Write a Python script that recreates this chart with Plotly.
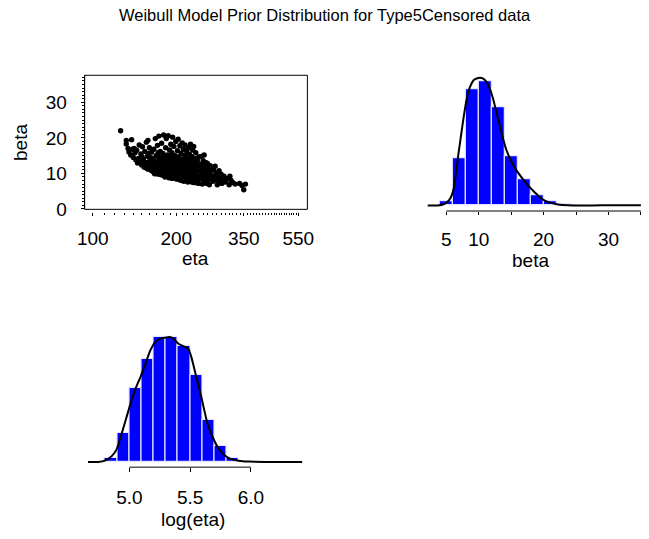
import math
import plotly.graph_objects as go

W, H = 649, 539
FONT = "Liberation Sans, Arial, Helvetica, sans-serif"

# ---------------- data ----------------
# prior samples (eta, beta)
eta_beta_samples = [
    (126, 22.0), (132, 19.3), (132, 18.3), (134, 17.0),
    (135, 16.0), (137, 15.2), (138, 19.5), (139, 16.8), (140, 14.5), (141, 17.0), (142, 15.8),
    (143, 13.8), (144, 16.5), (145, 12.9), (146, 14.2), (147, 18.0),
    (148, 13.5), (149, 15.5), (150, 12.4), (150, 14.8), (151, 17.5), (152, 14.0), (153, 11.8),
    (153, 13.2), (154, 16.2), (155, 13.0), (155, 11.6), (156, 18.8), (157, 12.0), (157, 14.8),
    (158, 11.2), (158, 19.3), (159, 15.6), (160, 13.4), (160, 17.2), (161, 12.6), (161, 13.9),
    (162, 10.9), (162, 14.4), (163, 16.0), (163, 11.8), (164, 12.2),
    (165, 10.5), (165, 14.1), (166, 12.0), (166, 16.8), (167, 11.2), (167, 13.2), (167, 9.9),
    (168, 19.8), (168, 10.0), (169, 15.0), (169, 10.8), (170, 12.6), (170, 11.0), (171, 17.9),
    (171, 13.6), (172, 9.8), (172, 12.2), (172, 15.8), (173, 14.8), (173, 20.5), (174, 11.5),
    (174, 10.4), (175, 13.0), (175, 16.2), (176, 9.6), (176, 12.8), (176, 14.0), (177, 18.5),
    (177, 11.0), (178, 14.2), (178, 10.2), (178, 11.8), (179, 12.0), (179, 15.6), (180, 9.4),
    (180, 13.4), (180, 20.8),
    (181, 11.2), (181, 14.6), (182, 9.0), (182, 12.5), (183, 17.2), (183, 10.4), (184, 13.2),
    (184, 19.8), (185, 9.6), (185, 11.8), (185, 13.8), (186, 15.2), (186, 10.8), (187, 12.8),
    (187, 20.6), (188, 8.8), (188, 14.0), (189, 11.4), (189, 16.6), (190, 10.2), (190, 12.4),
    (190, 14.8), (191, 18.2), (191, 9.4), (192, 13.6), (192, 11.0), (193, 15.8), (193, 8.6),
    (194, 12.0), (194, 20.2), (195, 10.0), (195, 14.4), (195, 12.6), (196, 11.6), (196, 17.6),
    (197, 9.2), (197, 13.0), (198, 10.6), (198, 15.0), (199, 12.2), (199, 19.0), (200, 8.4),
    (200, 11.2),
    (201, 13.8), (201, 10.0), (202, 16.4), (202, 9.0), (203, 12.0), (203, 19.6), (204, 11.0),
    (204, 14.6), (204, 12.2), (205, 8.2), (205, 12.8), (206, 17.8), (206, 10.4), (207, 13.4),
    (207, 9.6), (208, 11.6), (208, 15.6), (209, 8.0), (209, 12.4), (210, 18.6), (210, 10.8),
    (210, 13.2), (211, 14.0), (211, 9.2), (212, 11.8), (212, 16.8), (213, 7.8), (213, 13.0),
    (214, 10.2), (214, 15.0), (215, 12.2), (215, 18.0), (216, 9.0), (216, 11.0), (216, 14.0),
    (217, 13.8), (217, 8.4), (218, 16.2), (218, 10.6), (219, 12.6), (219, 9.8), (220, 14.4),
    (220, 7.6),
    (221, 11.4), (221, 17.2), (222, 9.4), (222, 13.0), (223, 8.0), (223, 15.4), (224, 10.6),
    (224, 12.0), (225, 18.2), (225, 9.0), (226, 13.8), (226, 11.0), (227, 7.6), (227, 14.8),
    (228, 10.0), (228, 12.4), (229, 16.6), (229, 8.6), (230, 11.6), (230, 13.4), (231, 9.6),
    (231, 17.6), (232, 12.0), (232, 7.4), (233, 10.4), (233, 14.2), (234, 8.8), (234, 11.2),
    (235, 15.8), (235, 9.8), (236, 12.8), (237, 8.2), (238, 13.6), (239, 10.8), (240, 7.2),
    (240, 11.8), (241, 14.6), (242, 9.2), (243, 10.6), (244, 12.6),
    (245, 8.4), (246, 11.2), (246, 14.8), (247, 9.6), (248, 7.0), (248, 12.4), (249, 10.2),
    (250, 13.6), (250, 8.8), (251, 11.0), (252, 15.2), (252, 7.6), (253, 9.8), (254, 12.0),
    (255, 8.2), (255, 10.8), (256, 13.0), (257, 7.2), (258, 11.6), (258, 9.2), (259, 12.8),
    (260, 8.0), (261, 10.4), (262, 11.8), (263, 6.8), (264, 9.6), (265, 12.2), (266, 8.6),
    (268, 10.8), (269, 9.0),
    (271, 7.8), (272, 11.2), (274, 9.4), (276, 12.0), (277, 8.2), (279, 10.2), (281, 6.8),
    (283, 9.0), (285, 10.8), (286, 7.6), (288, 8.6), (290, 9.8), (292, 7.2), (295, 8.4),
    (297, 9.2),
    (301, 7.6), (305, 8.6), (310, 6.8), (312, 9.2), (315, 8.0), (320, 7.4), (326, 7.0),
    (338, 7.2), (345, 6.6), (350, 5.4), (355, 7.0),
]
eta = [p[0] for p in eta_beta_samples]
beta = [p[1] for p in eta_beta_samples]

# beta histogram (bin width 2, density scale)
beta_bin_centers = [5, 7, 9, 11, 13, 15, 17, 19, 21, 23]
beta_density = [0.004, 0.049, 0.121, 0.130, 0.102, 0.051, 0.027, 0.011, 0.004, 0.001]
# beta kernel density curve
beta_kde_x = [2.13, 3.64, 4.40, 5.00, 5.65, 6.16, 6.66, 7.16, 7.66, 8.17, 8.67, 9.17, 9.68,
              10.18, 10.68, 11.18, 11.68, 12.19, 12.69, 13.19, 13.70, 14.20, 14.70, 15.20,
              15.71, 16.71, 17.72, 18.73, 19.73, 20.74, 22.25, 23.75, 26.0, 29.0, 31.0,
              33.0, 35.0]
beta_kde_y = [0.0000, 0.0000, 0.0007, 0.0027, 0.0078, 0.0181, 0.0437, 0.0676, 0.0915, 0.1119,
              0.1239, 0.1304, 0.1324, 0.1331, 0.1324, 0.1290, 0.1222, 0.1119, 0.0983, 0.0846,
              0.0710, 0.0591, 0.0505, 0.0437, 0.0376, 0.0283, 0.0198, 0.0130, 0.0068, 0.0034,
              0.0010, 0.0002, 0.0000, 0.0001, 0.0002, 0.0003, 0.0001]

# log(eta) histogram (bin width 0.1, density scale)
logeta_bin_centers = [4.85, 4.95, 5.05, 5.15, 5.25, 5.35, 5.45, 5.55, 5.65, 5.75, 5.85]
logeta_density = [0.06, 0.40, 1.02, 1.42, 1.72, 1.72, 1.60, 1.20, 0.58, 0.22, 0.06]
logeta_kde_x = [4.660, 4.745, 4.799, 4.853, 4.893, 4.933, 4.973, 5.013, 5.054, 5.094, 5.134,
                5.174, 5.214, 5.255, 5.295, 5.330, 5.362, 5.402, 5.442, 5.483, 5.509, 5.536,
                5.563, 5.590, 5.617, 5.643, 5.684, 5.724, 5.764, 5.818, 5.898, 5.979, 6.113,
                6.247, 6.421]
logeta_kde_y = [0.000, 0.000, 0.018, 0.077, 0.167, 0.370, 0.596, 0.822, 1.025, 1.183, 1.364,
                1.545, 1.658, 1.703, 1.716, 1.725, 1.703, 1.635, 1.599, 1.567, 1.454, 1.274,
                1.093, 0.912, 0.709, 0.528, 0.348, 0.212, 0.122, 0.054, 0.018, 0.005, 0.000,
                0.000, 0.000]

eta_ticks = [100, 200, 350, 550]
eta_minor_ticks = [v for v in range(110, 550, 10) if v not in eta_ticks]
beta_ticks_scatter = [0, 10, 20, 30]
beta_hist_ticks = [5, 10, 15, 20, 25, 30, 35]
beta_hist_ticktext = ["5", "10", "", "20", "", "30", ""]
logeta_ticks = [5.0, 5.5, 6.0]
logeta_ticktext = ["5.0", "5.5", "6.0"]

title_text = "Weibull Model Prior Distribution for Type5Censored data"


# ---------------- helpers ----------------
def px_x(p):
    return p / W


def px_y(p):
    return 1 - p / H


fig = go.Figure()

# scatter eta vs beta
fig.add_trace(go.Scatter(x=eta, y=beta, mode="markers", xaxis="x", yaxis="y",
                         marker=dict(color="black", size=5.4, line=dict(width=0)),
                         showlegend=False, hoverinfo="skip"))

# beta histogram + density
fig.add_trace(go.Bar(x=beta_bin_centers, y=beta_density, width=2, xaxis="x2", yaxis="y2",
                     marker=dict(color="#0000FF", line=dict(color="#E4E4FF", width=1.2)),
                     showlegend=False))
fig.add_trace(go.Scatter(x=beta_kde_x, y=beta_kde_y, mode="lines", xaxis="x2", yaxis="y2",
                         line=dict(color="black", width=2, shape="spline", smoothing=0.6),
                         showlegend=False))

# log(eta) histogram + density
fig.add_trace(go.Bar(x=logeta_bin_centers, y=logeta_density, width=0.1, xaxis="x3", yaxis="y3",
                     marker=dict(color="#0000FF", line=dict(color="#E4E4FF", width=1.2)),
                     showlegend=False))
fig.add_trace(go.Scatter(x=logeta_kde_x, y=logeta_kde_y, mode="lines", xaxis="x3", yaxis="y3",
                         line=dict(color="black", width=2, shape="spline", smoothing=0.6),
                         showlegend=False))

tickfont = dict(family=FONT, size=19, color="black")

# pixel geometry
sc_left, sc_right, sc_top, sc_bot = 79.3, 307.0, 76.7, 213.3
sc_axis_y = 215.7
bh_left, bh_right, bh_top, bh_axis = 420.0, 649.0, 76.7, 215.0
le_left, le_right, le_top, le_axis = 79.3, 307.0, 330.0, 476.0

fig.update_layout(
    width=W, height=H,
    margin=dict(l=0, r=0, t=0, b=0),
    paper_bgcolor="white", plot_bgcolor="white",
    bargap=0,
    showlegend=False,
    font=dict(family=FONT, color="black"),
    xaxis=dict(type="log", domain=[px_x(sc_left), px_x(sc_right)], range=[1.9704, 2.7733],
               anchor="free", position=px_y(sc_axis_y),
               tickmode="array", tickvals=eta_ticks, ticktext=[str(v) for v in eta_ticks],
               ticks="outside", ticklen=3, tickcolor="black", tickwidth=1,
               minor=dict(tickmode="array", tickvals=eta_minor_ticks, ticks="outside",
                          ticklen=2, tickcolor="black", tickwidth=1, showgrid=False),
               showline=False, showgrid=False, zeroline=False, tickfont=tickfont,
               ticklabelstandoff=7),
    yaxis=dict(domain=[px_y(sc_bot), px_y(sc_top)], range=[-0.1, 37.6], anchor="x",
               tickmode="array", tickvals=beta_ticks_scatter,
               ticks="outside", ticklen=3, tickcolor="black", tickwidth=1,
               minor=dict(dtick=1, tick0=0, ticks="outside", ticklen=2, tickcolor="black",
                          tickwidth=1, showgrid=False),
               showline=False, showgrid=False, zeroline=False, tickfont=tickfont,
               ticklabelstandoff=10),
    xaxis2=dict(domain=[px_x(bh_left), px_x(bh_right)], range=[0.626, 35.17], anchor="y2",
                tickmode="array", tickvals=beta_hist_ticks, ticktext=beta_hist_ticktext,
                ticks="outside", ticklen=3, tickcolor="black", tickwidth=1,
                showline=False, showgrid=False, zeroline=False, tickfont=tickfont,
                ticklabelstandoff=8),
    yaxis2=dict(domain=[px_y(bh_axis), px_y(bh_top)], range=[-0.00584, 0.1358], anchor="x2",
                visible=False),
    xaxis3=dict(domain=[px_x(le_left), px_x(le_right)], range=[4.632, 6.464], anchor="y3",
                tickmode="array", tickvals=logeta_ticks, ticktext=logeta_ticktext,
                ticks="outside", ticklen=4, tickcolor="black", tickwidth=1,
                showline=False, showgrid=False, zeroline=False, tickfont=tickfont,
                ticklabelstandoff=9),
    yaxis3=dict(domain=[px_y(le_axis), px_y(le_top)], range=[-0.0718, 1.906], anchor="x3",
                visible=False),
)

shapes = [
    # box around scatter
    dict(type="rect", xref="x domain", yref="y domain", x0=0, x1=1, y0=0, y1=1,
         line=dict(color="black", width=1), fillcolor="rgba(0,0,0,0)"),
    # scatter x axis line (log axis -> log10 coordinates)
    dict(type="line", xref="x", yref="paper", x0=math.log10(eta_ticks[0]),
         x1=math.log10(eta_ticks[-1]), y0=px_y(sc_axis_y), y1=px_y(sc_axis_y),
         line=dict(color="black", width=1)),
    # scatter y axis line
    dict(type="line", xref="x domain", yref="y", x0=0, x1=0, y0=0, y1=37.6,
         line=dict(color="black", width=1)),
    # beta histogram axis line
    dict(type="line", xref="x2", yref="y2 domain", x0=beta_hist_ticks[0], x1=beta_hist_ticks[-1],
         y0=0, y1=0, line=dict(color="black", width=1)),
    # log(eta) histogram axis line
    dict(type="line", xref="x3", yref="y3 domain", x0=logeta_ticks[0], x1=logeta_ticks[-1],
         y0=0, y1=0, line=dict(color="black", width=1)),
]
fig.update_layout(shapes=shapes)

label_font = dict(family=FONT, size=19, color="black")
annotations = [
    dict(text=title_text, x=px_x(325), y=px_y(15), xref="paper", yref="paper",
         showarrow=False, font=dict(family=FONT, size=16.5, color="black"),
         xanchor="center", yanchor="middle"),
    dict(text="eta", x=px_x(193), y=px_y(263), xref="paper", yref="paper",
         showarrow=False, font=label_font, xanchor="center", yanchor="middle"),
    dict(text="beta", x=px_x(14), y=px_y(145), xref="paper", yref="paper", textangle=-90,
         showarrow=False, font=label_font, xanchor="center", yanchor="middle"),
    dict(text="beta", x=px_x(535), y=px_y(265), xref="paper", yref="paper",
         showarrow=False, font=label_font, xanchor="center", yanchor="middle"),
    dict(text="log(eta)", x=px_x(190), y=px_y(529), xref="paper", yref="paper",
         showarrow=False, font=label_font, xanchor="center", yanchor="middle"),
]
fig.update_layout(annotations=annotations)

fig.write_html("out.html")
